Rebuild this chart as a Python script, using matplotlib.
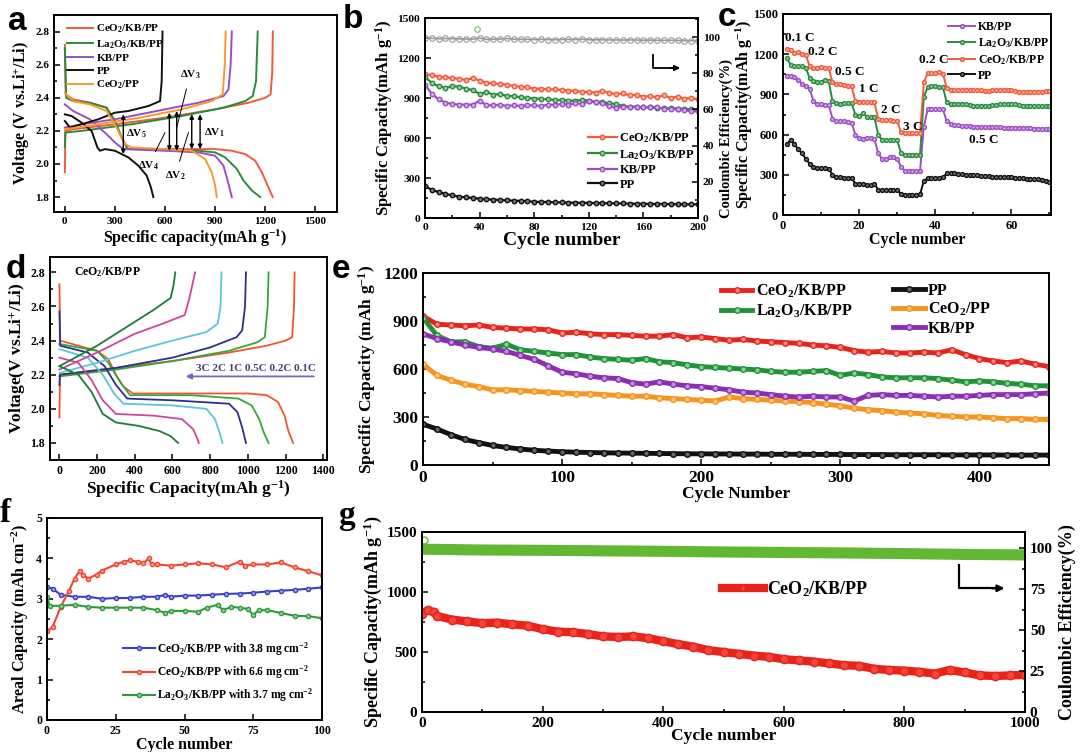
import numpy as np
import matplotlib
matplotlib.use("Agg")
import matplotlib.pyplot as plt
from matplotlib.ticker import MultipleLocator

plt.rcParams['font.family'] = ['Liberation Serif', 'DejaVu Serif']
plt.rcParams['font.weight'] = 'bold'
plt.rcParams['axes.labelweight'] = 'bold'
plt.rcParams['mathtext.fontset'] = 'custom'
plt.rcParams['mathtext.rm'] = 'Liberation Serif:bold'
plt.rcParams['mathtext.it'] = 'Liberation Serif:bold:italic'
plt.rcParams['mathtext.bf'] = 'Liberation Serif:bold'
plt.rcParams['mathtext.default'] = 'rm'

# ---------------- colours ----------------
RED = '#f25a3c'
GREEN = '#2b8a3e'
PURPLE = '#9a4fc4'
ORANGE = '#f79a2e'
BLACK = '#111111'

# ---------------- panel a data (capacity, voltage) ----------------
a_labels = ['CeO$_2$/KB/PP', 'La$_2$O$_3$/KB/PP', 'KB/PP', 'PP', 'CeO$_2$/PP']
a_ceo2kb_dis = [(0, 2.72), (5, 2.42), (50, 2.39), (150, 2.37), (250, 2.34), (300, 2.26), (340, 2.16), (380, 2.09),
                (600, 2.09), (900, 2.09), (1000, 2.08), (1080, 2.06), (1140, 2.02), (1180, 1.95), (1210, 1.88), (1245, 1.80)]
a_ceo2kb_chg = [(0, 1.95), (3, 2.20), (50, 2.21), (300, 2.24), (600, 2.28), (900, 2.33), (1100, 2.37), (1200, 2.40),
                (1232, 2.42), (1242, 2.55), (1246, 2.80)]
a_la2o3kb_dis = [(0, 2.70), (8, 2.40), (50, 2.38), (150, 2.37), (250, 2.34), (300, 2.26), (340, 2.16), (375, 2.09),
                 (600, 2.09), (800, 2.08), (900, 2.07), (960, 2.04), (1030, 1.97), (1070, 1.90), (1120, 1.84), (1170, 1.80)]
a_la2o3kb_chg = [(0, 2.10), (3, 2.19), (100, 2.20), (400, 2.24), (700, 2.29), (950, 2.34), (1080, 2.38), (1125, 2.41),
                 (1145, 2.50), (1155, 2.80)]
a_kb_dis = [(0, 2.36), (50, 2.32), (150, 2.27), (250, 2.18), (300, 2.13), (350, 2.09), (600, 2.08), (800, 2.07),
            (900, 2.05), (950, 1.99), (975, 1.90), (1000, 1.80)]
a_kb_chg = [(0, 2.22), (100, 2.24), (300, 2.27), (600, 2.33), (800, 2.37), (950, 2.41), (980, 2.45), (993, 2.60), (1000, 2.80)]
a_pp_dis = [(0, 2.30), (40, 2.29), (100, 2.25), (160, 2.20), (195, 2.10), (210, 2.08), (240, 2.09), (300, 2.08),
            (380, 2.04), (440, 1.99), (490, 1.93), (515, 1.86), (530, 1.80)]
a_pp_chg = [(0, 2.26), (30, 2.22), (100, 2.24), (200, 2.27), (300, 2.31), (380, 2.32), (500, 2.35), (570, 2.38),
            (580, 2.50), (585, 2.80)]
a_ceo2_dis = [(0, 2.43), (50, 2.38), (150, 2.36), (250, 2.32), (310, 2.22), (360, 2.12), (400, 2.10), (600, 2.09),
              (760, 2.08), (840, 2.03), (880, 1.95), (900, 1.87), (910, 1.80)]
a_ceo2_chg = [(0, 2.21), (200, 2.24), (450, 2.28), (700, 2.33), (880, 2.38), (945, 2.42), (958, 2.60), (963, 2.80)]

# ---------------- panel b data (every 5 cycles) ----------------
b_cycles = list(range(0, 201, 5))
b_ceo2kb = [1080, 1070, 1060, 1055, 1050, 1045, 1035, 1050, 1030, 1015, 1010, 1005, 1000, 990, 985, 980, 970, 970,
            965, 965, 960, 955, 955, 945, 945, 940, 955, 935, 930, 935, 920, 925, 910, 915, 905, 920, 900, 910, 895, 900, 890]
b_la2o3kb = [1060, 1010, 990, 975, 990, 985, 970, 960, 930, 945, 925, 930, 915, 915, 905, 900, 895, 895, 890, 885,
             885, 880, 880, 885, 880, 870, 870, 860, 855, 840, 835, 835, 830, 830, 825, 825, 825, 820, 820, 815, 810]
b_kb = [1000, 930, 890, 865, 855, 850, 850, 850, 880, 845, 845, 850, 840, 845, 840, 845, 845, 840, 850, 850, 855,
        850, 860, 855, 875, 870, 860, 840, 825, 835, 830, 835, 830, 835, 830, 820, 820, 815, 810, 800, 800]
b_pp = [240, 210, 195, 180, 170, 160, 155, 150, 145, 140, 138, 135, 132, 130, 128, 125, 122, 120, 120, 118, 117,
        115, 115, 114, 113, 112, 111, 110, 110, 109, 108, 107, 106, 106, 105, 105, 104, 103, 103, 102, 102]
b_ce = [99.5, 99.3, 99.0, 99.2, 99.1, 99.0, 98.9, 98.8, 99.4, 98.7, 98.8, 98.9, 99.2, 98.8, 98.7, 98.7, 98.6, 98.7,
        98.6, 98.5, 98.6, 98.7, 98.6, 98.8, 98.5, 98.4, 98.5, 98.4, 98.4, 98.3, 98.4, 98.3, 98.2, 98.3, 98.2, 98.1,
        98.2, 98.1, 98.0, 98.0, 97.9]
b_ce_outlier = [(38, 104.5)]

# ---------------- panel c data (per cycle) ----------------
c_labels = ['KB/PP', 'La$_2$O$_3$/KB/PP', 'CeO$_2$/KB/PP', 'PP']
c_kb = [1040, 1040, 1030, 1010, 980, 960, 940, 850, 830, 825, 820, 820, 720, 700, 700, 700, 695, 690,
        600, 575, 570, 575, 575, 570, 460, 420, 420, 430, 430, 420, 360, 330, 330, 330, 330, 330,
        660, 790, 790, 790, 790, 790, 700, 680, 670, 670, 665, 665, 665, 660, 660, 660, 655, 655, 655, 655,
        655, 650, 650, 650, 650, 650, 650, 650, 650, 645, 645, 645, 645, 645]
c_la2o3kb = [1170, 1120, 1115, 1110, 1110, 1100, 1020, 1000, 990, 995, 1010, 1000, 850, 835, 830, 835, 835, 835,
             750, 740, 760, 735, 730, 730, 600, 560, 560, 560, 560, 560, 460, 450, 450, 450, 450, 450,
             880, 955, 960, 960, 955, 955, 840, 825, 825, 830, 830, 825, 820, 815, 815, 815, 815, 815, 820, 820,
             825, 825, 830, 830, 825, 820, 815, 815, 815, 815, 815, 815, 815, 815]
c_ceo2kb = [1240, 1230, 1210, 1215, 1200, 1195, 1110, 1100, 1100, 1105, 1100, 1095, 990, 975, 975, 970, 965, 960,
            850, 845, 845, 840, 840, 840, 720, 710, 710, 710, 705, 700, 620, 610, 610, 610, 610, 610,
            990, 1060, 1060, 1060, 1065, 1055, 950, 935, 930, 930, 935, 935, 935, 930, 930, 930, 925, 925, 930, 930,
            930, 935, 935, 930, 925, 920, 920, 920, 920, 920, 920, 920, 925, 925]
c_pp = [530, 560, 530, 490, 460, 420, 380, 360, 350, 350, 350, 345, 300, 280, 280, 275, 275, 275,
        235, 230, 230, 225, 225, 230, 190, 185, 185, 185, 185, 185, 160, 150, 150, 150, 150, 155,
        255, 275, 275, 275, 275, 280, 310, 315, 310, 305, 305, 300, 300, 300, 295, 290, 290, 290, 285, 285,
        285, 280, 280, 280, 275, 275, 275, 270, 270, 265, 265, 260, 255, 250]
c_rates = ['0.1 C', '0.2 C', '0.5 C', '1 C', '2 C', '3 C', '0.2 C', '0.5 C']

# ---------------- panel d data (CeO2/KB/PP at rates) ----------------
d_rates = ['0.1C', '0.2C', '0.5C', '1C', '2C', '3C']
d_colors = ['#f0562e', '#3aa53a', '#2b2f8f', '#5ac6d8', '#d0459a', '#1f7a3a']
d_dis_01 = [(0, 2.73), (4, 2.40), (100, 2.37), (200, 2.34), (260, 2.29), (300, 2.20), (340, 2.13), (390, 2.09),
            (700, 2.09), (1000, 2.09), (1100, 2.08), (1160, 2.04), (1195, 1.96), (1215, 1.87), (1240, 1.80)]
d_dis_02 = [(0, 2.38), (200, 2.34), (260, 2.27), (320, 2.16), (375, 2.08), (700, 2.08), (950, 2.06), (1020, 2.02),
            (1060, 1.94), (1085, 1.86), (1110, 1.80)]
d_dis_05 = [(0, 2.57), (4, 2.37), (150, 2.33), (240, 2.25), (300, 2.14), (360, 2.06), (600, 2.05), (900, 2.03),
            (945, 1.98), (970, 1.89), (990, 1.80)]
d_dis_1 = [(0, 2.35), (150, 2.30), (230, 2.20), (290, 2.09), (340, 2.03), (600, 2.02), (780, 2.00), (825, 1.94),
           (850, 1.86), (865, 1.80)]
d_dis_2 = [(0, 2.30), (100, 2.27), (170, 2.17), (230, 2.05), (300, 1.97), (500, 1.96), (650, 1.94), (710, 1.88),
           (730, 1.83), (740, 1.80)]
d_dis_3 = [(0, 2.25), (100, 2.20), (170, 2.10), (230, 1.97), (300, 1.92), (420, 1.90), (530, 1.87), (590, 1.84),
           (630, 1.80)]
d_chg_01 = [(0, 1.95), (3, 2.20), (300, 2.24), (600, 2.28), (900, 2.33), (1100, 2.37), (1200, 2.40), (1235, 2.42),
            (1245, 2.60), (1248, 2.80)]
d_chg_02 = [(0, 2.19), (300, 2.23), (600, 2.28), (900, 2.34), (1050, 2.39), (1090, 2.42), (1105, 2.60), (1110, 2.80)]
d_chg_05 = [(0, 2.14), (3, 2.20), (300, 2.24), (600, 2.30), (800, 2.36), (940, 2.42), (970, 2.46), (985, 2.60), (990, 2.80)]
d_chg_1 = [(0, 2.21), (200, 2.27), (400, 2.34), (600, 2.40), (780, 2.45), (840, 2.50), (855, 2.60), (860, 2.80)]
d_chg_2 = [(0, 2.23), (200, 2.33), (400, 2.44), (550, 2.50), (665, 2.55), (690, 2.65), (720, 2.80)]
d_chg_3 = [(0, 2.25), (200, 2.37), (400, 2.51), (500, 2.58), (590, 2.65), (605, 2.72), (615, 2.80)]

# ---------------- panel e data (every 10 cycles) ----------------
e_cycles = list(range(0, 451, 10))
e_ceo2kb = [930, 880, 875, 870, 875, 860, 855, 850, 850, 845, 825, 830, 820, 815, 815, 810, 805, 805, 815, 795,
            800, 790, 780, 785, 775, 770, 765, 760, 750, 745, 735, 715, 705, 710, 700, 700, 705, 700, 720, 690,
            665, 650, 640, 650, 630, 615]
e_la2o3kb = [920, 810, 770, 770, 740, 730, 755, 720, 710, 700, 690, 690, 675, 665, 660, 655, 665, 645, 640, 625,
             615, 610, 605, 600, 595, 585, 580, 580, 585, 590, 560, 575, 565, 550, 545, 545, 545, 540, 530, 520,
             525, 520, 510, 505, 495, 495]
e_pp = [255, 225, 190, 160, 140, 122, 110, 100, 92, 87, 83, 80, 78, 76, 75, 74, 73, 72, 71, 70, 70, 69, 69, 68,
        68, 67, 67, 67, 66, 66, 66, 65, 65, 65, 64, 64, 64, 64, 63, 63, 63, 63, 62, 62, 62, 62]
e_ceo2 = [630, 560, 530, 505, 490, 470, 470, 465, 460, 455, 450, 445, 445, 440, 435, 430, 430, 420, 415, 410,
          405, 400, 425, 415, 410, 405, 400, 395, 390, 380, 370, 355, 345, 340, 330, 325, 320, 310, 305, 300,
          300, 295, 290, 290, 285, 285]
e_kb = [820, 790, 770, 750, 735, 725, 710, 685, 660, 620, 580, 570, 555, 545, 540, 515, 505, 520, 505, 495, 490,
        480, 470, 455, 450, 440, 430, 425, 430, 425, 425, 400, 435, 440, 435, 435, 430, 425, 430, 430, 435, 440,
        440, 440, 445, 450]

# ---------------- panel f data ----------------
f_labels = ['CeO$_2$/KB/PP with 3.8 mg cm$^{-2}$', 'CeO$_2$/KB/PP with 6.6 mg cm$^{-2}$',
            'La$_2$O$_3$/KB/PP with 3.7 mg cm$^{-2}$']
f_cyc_blue = [0, 2, 5, 10, 15, 20, 25, 30, 35, 40, 43, 45, 50, 55, 60, 65, 70, 75, 80, 85, 90, 95, 100]
f_blue = [3.30, 3.25, 3.10, 3.05, 3.05, 3.00, 3.02, 3.02, 3.05, 3.05, 3.10, 3.05, 3.08, 3.08, 3.10, 3.12, 3.13,
          3.15, 3.18, 3.20, 3.22, 3.25, 3.28]
f_cyc_red = [0, 2, 5, 8, 10, 12, 13, 15, 18, 20, 25, 28, 30, 33, 35, 37, 38, 40, 45, 50, 55, 60, 65, 70, 72, 75,
             80, 85, 90, 95, 100]
f_red = [2.20, 2.30, 2.80, 3.20, 3.50, 3.70, 3.60, 3.50, 3.60, 3.70, 3.85, 3.92, 3.95, 3.92, 3.88, 4.00, 3.85,
         3.85, 3.82, 3.85, 3.88, 3.85, 3.78, 3.92, 3.82, 3.85, 3.85, 3.90, 3.78, 3.68, 3.58]
f_cyc_green = [0, 1, 5, 10, 15, 20, 25, 30, 35, 40, 43, 45, 50, 55, 58, 62, 64, 67, 70, 73, 75, 77, 80, 85, 90,
               95, 100]
f_green = [3.05, 2.82, 2.83, 2.85, 2.80, 2.78, 2.78, 2.78, 2.78, 2.72, 2.65, 2.70, 2.70, 2.68, 2.78, 2.85, 2.72,
           2.80, 2.78, 2.75, 2.60, 2.72, 2.72, 2.65, 2.58, 2.57, 2.52]

# ---------------- panel g data (every 25 cycles) ----------------
g_cycles = [0, 10, 20] + list(range(25, 1001, 25))
g_cap = [820, 850, 830, 800, 770, 755, 740, 745, 730, 720, 690, 670, 665, 650, 630, 625, 630, 615, 590, 565, 545,
         515, 500, 485, 470, 460, 440, 430, 420, 405, 390, 385, 360, 350, 345, 335, 320, 350, 330, 305, 300, 305, 310]
g_ce_cycles = list(range(0, 1001, 100))
g_ce = [99.5, 99.0, 98.8, 98.5, 98.2, 97.8, 97.5, 97.2, 96.8, 96.3, 96.0]

# ---------------- figure ----------------
W, H = 1080, 752
fig = plt.figure(figsize=(W / 100, H / 100), dpi=100)


def add_ax(L, R, T, B):
    return fig.add_axes([L / W, 1 - B / H, (R - L) / W, (B - T) / H])


def style(ax, ts):
    for s in ax.spines.values():
        s.set_linewidth(1.4)
    ax.tick_params(which='both', direction='in', width=1.1, labelsize=ts, top=False, right=False)
    ax.tick_params(which='major', length=4)
    ax.tick_params(which='minor', length=2.5)


def xy(pts):
    return [p[0] for p in pts], [p[1] for p in pts]


# ---- panel a ----
ax = add_ax(54, 337, 15, 212)
style(ax, 8)
for dis, chg, col, lab in [(a_ceo2kb_dis, a_ceo2kb_chg, RED, a_labels[0]),
                           (a_la2o3kb_dis, a_la2o3kb_chg, GREEN, a_labels[1]),
                           (a_kb_dis, a_kb_chg, PURPLE, a_labels[2]),
                           (a_pp_dis, a_pp_chg, BLACK, a_labels[3]),
                           (a_ceo2_dis, a_ceo2_chg, ORANGE, a_labels[4])]:
    ax.plot(*xy(dis), color=col, lw=1.4, label=lab)
    ax.plot(*xy(chg), color=col, lw=1.4)
ax.set_xlim(-65, 1630)
ax.set_ylim(1.71, 2.9)
ax.xaxis.set_major_locator(MultipleLocator(300))
ax.yaxis.set_major_locator(MultipleLocator(0.2))
ax.yaxis.set_minor_locator(MultipleLocator(0.1))
ax.set_xlabel('Specific capacity(mAh g$^{-1}$)', fontsize=11.5, labelpad=1)
ax.set_ylabel('Voltage (V vs.Li$^{+}$/Li)', fontsize=11.5, labelpad=2)
ax.legend(loc='upper left', bbox_to_anchor=(0.02, 1.0), frameon=False, fontsize=8, handlelength=2.3,
          handletextpad=0.3, labelspacing=0.25, borderpad=0.2)
for xv, y0, y1 in [(350, 2.06, 2.30), (626, 2.08, 2.31), (670, 2.08, 2.32), (760, 2.09, 2.30), (810, 2.09, 2.30)]:
    ax.annotate('', xy=(xv, y1), xytext=(xv, y0),
                arrowprops=dict(arrowstyle='<|-|>', lw=1.0, color='k', mutation_scale=6, shrinkA=0, shrinkB=0))
ax.text(895, 2.19, 'ΔV$_1$', fontsize=8, ha='center', va='center')
ax.text(430, 2.18, 'ΔV$_5$', fontsize=8, ha='center', va='center')
ax.annotate('ΔV$_2$', xy=(740, 2.19), xytext=(660, 1.93), fontsize=8, ha='center', va='center',
            arrowprops=dict(arrowstyle='-', lw=0.7, shrinkA=4, shrinkB=0))
ax.annotate('ΔV$_3$', xy=(670, 2.22), xytext=(750, 2.54), fontsize=8, ha='center', va='center',
            arrowprops=dict(arrowstyle='-', lw=0.7, shrinkA=4, shrinkB=0))
ax.annotate('ΔV$_4$', xy=(600, 2.19), xytext=(500, 1.99), fontsize=8, ha='center', va='center',
            arrowprops=dict(arrowstyle='-', lw=0.7, shrinkA=4, shrinkB=0))

# ---- panel b ----
ax = add_ax(425, 698, 18, 218)
style(ax, 8.2)
ax2 = ax.twinx()
style(ax2, 8.2)
ax2.tick_params(which='both', right=True, left=False)
ax2.plot(b_cycles, b_ce, 'o', color='#9a9a9a', mfc='none', ms=4, mew=0.8, ls='-', lw=1.2)
ax2.plot([p[0] for p in b_ce_outlier], [p[1] for p in b_ce_outlier], 'o', color='#6fbf6f', mfc='none', ms=4, mew=0.8)
ax2.set_ylim(0, 110.5)
ax2.yaxis.set_major_locator(MultipleLocator(20))
ax2.yaxis.set_minor_locator(MultipleLocator(10))
ax2.set_ylabel('Coulombic Efficiency(%)', fontsize=10.5)
ax2.yaxis.set_label_coords(1.08, 0.40)
for ys, col, mfc, lab in [(b_ceo2kb, RED, '#ffb09a', 'CeO$_2$/KB/PP'), (b_la2o3kb, GREEN, '#8fd39a', 'La$_2$O$_3$/KB/PP'),
                          (b_kb, PURPLE, '#d7a8f0', 'KB/PP'), (b_pp, BLACK, '#777777', 'PP')]:
    ax.plot(b_cycles, ys, '-o', color=col, mfc=mfc, mec=col, ms=3.2, lw=1.6, label=lab)
ax.set_xlim(0, 200)
ax.set_ylim(0, 1500)
ax.xaxis.set_major_locator(MultipleLocator(40))
ax.xaxis.set_minor_locator(MultipleLocator(20))
ax.yaxis.set_major_locator(MultipleLocator(300))
ax.yaxis.set_minor_locator(MultipleLocator(150))
ax.set_xlabel('Cycle number', fontsize=14, labelpad=0)
ax.set_ylabel('Specific Capacity(mAh g$^{-1}$)', fontsize=12, labelpad=2)
ax.legend(loc='upper left', bbox_to_anchor=(0.57, 0.47), frameon=False, fontsize=9, handlelength=2.3,
          handletextpad=0.2, labelspacing=0.2, borderpad=0.1)
ax.plot([167, 167, 183], [1225, 1125, 1125], color='k', lw=1.3)
ax.annotate('', xy=(187, 1125), xytext=(180, 1125),
            arrowprops=dict(arrowstyle='-|>', color='k', lw=1.3, mutation_scale=8, shrinkA=0, shrinkB=0))

# ---- panel c ----
ax = add_ax(783, 1051, 14, 215)
style(ax, 9)
cx = np.arange(1, len(c_kb) + 1)
for ys, col, mfc, lab in [(c_kb, PURPLE, '#d7a8f0', c_labels[0]), (c_la2o3kb, GREEN, '#8fd39a', c_labels[1]),
                          (c_ceo2kb, RED, '#ffb09a', c_labels[2]), (c_pp, BLACK, '#777777', c_labels[3])]:
    ax.plot(cx, ys, '-o', color=col, mfc=mfc, mec=col, ms=2.8, lw=1.4, label=lab)
ax.set_xlim(0, 70.4)
ax.set_ylim(0, 1500)
ax.xaxis.set_major_locator(MultipleLocator(20))
ax.xaxis.set_minor_locator(MultipleLocator(10))
ax.yaxis.set_major_locator(MultipleLocator(300))
ax.yaxis.set_minor_locator(MultipleLocator(150))
ax.set_xlabel('Cycle number', fontsize=11.5, labelpad=0)
ax.set_ylabel('Specific Capacity(mAh g$^{-1}$)', fontsize=11.5)
ax.yaxis.set_label_coords(-0.106, 0.5)
ax.legend(loc='upper left', bbox_to_anchor=(0.59, 1.0), frameon=False, fontsize=8.5, handlelength=2.3,
          handletextpad=0.2, labelspacing=0.25, borderpad=0.1)
for lab, (tx, ty) in zip(c_rates, [(4.5, 1318), (10.5, 1219), (17.5, 1070), (22.5, 938), (28.3, 784), (34, 660),
                                   (39.7, 1157), (52.8, 557)]):
    ax.text(tx, ty, lab, fontsize=9.5, ha='center', va='center')

# ---- panel d ----
ax = add_ax(50, 327, 257, 460)
style(ax, 8.5)
for dis, chg, col in zip([d_dis_01, d_dis_02, d_dis_05, d_dis_1, d_dis_2, d_dis_3],
                         [d_chg_01, d_chg_02, d_chg_05, d_chg_1, d_chg_2, d_chg_3], d_colors):
    ax.plot(*xy(dis), color=col, lw=1.3)
    ax.plot(*xy(chg), color=col, lw=1.3)
ax.set_xlim(-50, 1420)
ax.set_ylim(1.70, 2.89)
ax.xaxis.set_major_locator(MultipleLocator(200))
ax.yaxis.set_major_locator(MultipleLocator(0.2))
ax.yaxis.set_minor_locator(MultipleLocator(0.1))
ax.set_xlabel('Specific Capacity(mAh g$^{-1}$)', fontsize=12.5, labelpad=1)
ax.set_ylabel('Voltage(V vs.Li$^{+}$/Li)', fontsize=12.5, labelpad=2)
ax.text(80, 2.8, 'CeO$_2$/KB/PP', fontsize=8.5, ha='left', va='center')
ax.annotate('', xy=(670, 2.19), xytext=(1350, 2.19),
            arrowprops=dict(arrowstyle='-|>', color='#7466c9', lw=1.3, mutation_scale=8, shrinkA=0, shrinkB=0))
ax.text(1045, 2.235, ' '.join(d_rates[::-1]), fontsize=8, ha='center', va='center', color='#4a3878')

# ---- panel e ----
ax = add_ax(423, 1049, 273, 465)
style(ax, 12.5)
e_series = [(e_ceo2kb, '#e8231c', '#ff8f86', 'CeO$_2$/KB/PP'), (e_la2o3kb, '#22913a', '#7fd68f', 'La$_2$O$_3$/KB/PP'),
            (e_pp, BLACK, '#666666', 'PP'), (e_ceo2, '#f7941d', '#ffc77a', 'CeO$_2$/PP'),
            (e_kb, '#8a2fb0', '#c98be6', 'KB/PP')]
handles = []
for ys, col, mfc, lab in e_series:
    h, = ax.plot(e_cycles, ys, '-o', color=col, mfc=mfc, mec=col, ms=4, lw=3.5, label=lab)
    handles.append(h)
ax.set_xlim(0, 450)
ax.set_ylim(0, 1200)
ax.xaxis.set_major_locator(MultipleLocator(100))
ax.xaxis.set_minor_locator(MultipleLocator(50))
ax.yaxis.set_major_locator(MultipleLocator(300))
ax.yaxis.set_minor_locator(MultipleLocator(150))
ax.set_xlabel('Cycle Number', fontsize=12.5, labelpad=0)
ax.set_ylabel('Specific Capacity (mAh g$^{-1}$)', fontsize=12.5, labelpad=4)
leg1 = ax.legend(handles=handles[:2], loc='upper left', bbox_to_anchor=(0.46, 1.0), frameon=False, fontsize=11.5,
                 handlelength=2.0, handletextpad=0.2, labelspacing=0.15, borderpad=0.1)
ax.add_artist(leg1)
ax.legend(handles=handles[2:], loc='upper left', bbox_to_anchor=(0.735, 1.0), frameon=False, fontsize=11.5,
          handlelength=2.0, handletextpad=0.2, labelspacing=0.15, borderpad=0.1)

# ---- panel f ----
ax = add_ax(47, 322, 518, 720)
style(ax, 8.5)
for cx_, ys, col, mfc, lab in [(f_cyc_blue, f_blue, '#3b3fc4', '#9ea3f0', f_labels[0]),
                               (f_cyc_red, f_red, '#f0452e', '#ffa08f', f_labels[1]),
                               (f_cyc_green, f_green, '#2e9a3a', '#90d79a', f_labels[2])]:
    ax.plot(cx_, ys, '-o', color=col, mfc=mfc, mec=col, ms=3, lw=1.5, label=lab)
ax.set_xlim(0, 100)
ax.set_ylim(0, 5)
ax.xaxis.set_major_locator(MultipleLocator(25))
ax.yaxis.set_major_locator(MultipleLocator(1))
ax.yaxis.set_minor_locator(MultipleLocator(0.5))
ax.set_xlabel('Cycle number', fontsize=11.5, labelpad=0)
ax.set_ylabel('Areal Capacity (mAh cm$^{-2}$)', fontsize=11.5, labelpad=4)
ax.legend(loc='upper left', bbox_to_anchor=(0.25, 0.43), frameon=False, fontsize=8.3, handlelength=2.8,
          handletextpad=0.2, labelspacing=0.5, borderpad=0.1)

# ---- panel g ----
ax = add_ax(422, 1025, 532, 712)
style(ax, 11)
ax2 = ax.twinx()
style(ax2, 11)
ax2.tick_params(which='both', right=True, left=False)
ax2.plot(g_ce_cycles, g_ce, color='#62b833', lw=8, solid_capstyle='butt')
ax2.plot([3], [105], 'o', color='#62b833', mfc='none', ms=5)
ax2.set_ylim(0, 110)
ax2.yaxis.set_major_locator(MultipleLocator(25))
ax2.yaxis.set_minor_locator(MultipleLocator(12.5))
ax2.set_ylabel('Coulombic Efficiency(%)', fontsize=13, labelpad=4)
ax.plot(g_cycles, g_cap, '-o', color='#e8231c', mfc='#f2453c', mec='#e8231c', ms=6, lw=6, label='CeO$_2$/KB/PP')
ax.set_xlim(0, 1000)
ax.set_ylim(0, 1500)
ax.xaxis.set_major_locator(MultipleLocator(200))
ax.xaxis.set_minor_locator(MultipleLocator(100))
ax.yaxis.set_major_locator(MultipleLocator(500))
ax.yaxis.set_minor_locator(MultipleLocator(250))
ax.set_xlabel('Cycle number', fontsize=12.5, labelpad=-1)
ax.set_ylabel('Specific Capacity(mAh g$^{-1}$)', fontsize=13, labelpad=2)
ax.legend(loc='upper left', bbox_to_anchor=(0.48, 0.8), frameon=False, fontsize=13, handlelength=2.3,
          handletextpad=0.2, borderpad=0.1, markerscale=0.6)
ax.plot([891, 891, 950], [1225, 1031, 1031], color='k', lw=1.6)
ax.annotate('', xy=(966, 1031), xytext=(945, 1031),
            arrowprops=dict(arrowstyle='-|>', color='k', lw=1.6, mutation_scale=10, shrinkA=0, shrinkB=0))

# ---- panel letters ----
for lab, px, py, fam in [('a', 8, 30, 'Liberation Sans'), ('b', 343, 28, 'Liberation Sans'),
                         ('c', 718, 26, 'Liberation Sans'), ('d', 6, 278, 'Liberation Sans'),
                         ('e', 332, 278, 'Liberation Sans'), ('f', 0, 522, 'Liberation Serif'),
                         ('g', 338, 524, 'Liberation Serif')]:
    fig.text(px / W, 1 - py / H, lab, fontsize=24, fontweight='bold', family=fam, ha='left', va='baseline')

fig.savefig('out.png', dpi=100)
